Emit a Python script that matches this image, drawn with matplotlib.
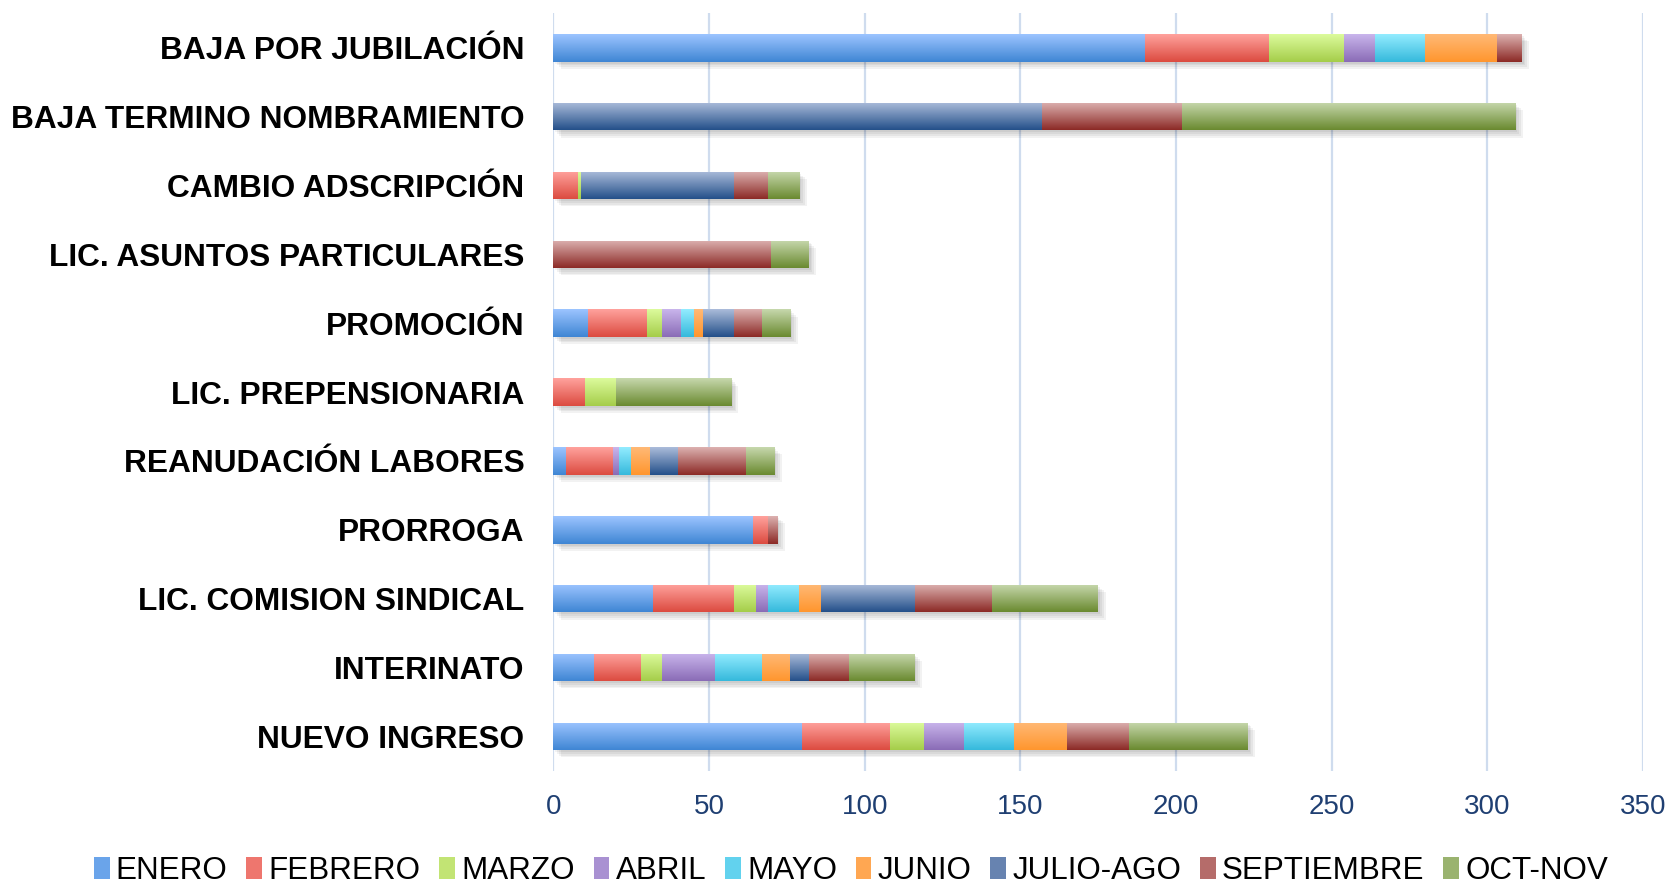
import numpy as np
import matplotlib
matplotlib.use("Agg")
import matplotlib.pyplot as plt
from matplotlib.patches import Patch
from matplotlib.colors import to_rgb

categories = ["BAJA POR JUBILACIÓN", "BAJA TERMINO NOMBRAMIENTO", "CAMBIO ADSCRIPCIÓN",
              "LIC. ASUNTOS PARTICULARES", "PROMOCIÓN", "LIC. PREPENSIONARIA",
              "REANUDACIÓN LABORES", "PRORROGA", "LIC. COMISION SINDICAL",
              "INTERINATO", "NUEVO INGRESO"]
series_names = ["ENERO", "FEBRERO", "MARZO", "ABRIL", "MAYO", "JUNIO",
                "JULIO-AGO", "SEPTIEMBRE", "OCT-NOV"]
enero      = [190, 0, 0, 0, 11, 0, 4, 64, 32, 13, 80]
febrero    = [40, 0, 8, 0, 19, 10, 15, 5, 26, 15, 28]
marzo      = [24, 0, 1, 0, 5, 10, 0, 0, 7, 7, 11]
abril      = [10, 0, 0, 0, 6, 0, 2, 0, 4, 17, 13]
mayo       = [16, 0, 0, 0, 4, 0, 4, 0, 10, 15, 16]
junio      = [23, 0, 0, 0, 3, 0, 6, 0, 7, 9, 17]
julio_ago  = [0, 157, 49, 0, 10, 0, 9, 0, 30, 6, 0]
septiembre = [8, 45, 11, 70, 9, 0, 22, 3, 25, 13, 20]
oct_nov    = [0, 107, 10, 12, 9, 37, 9, 0, 34, 21, 38]
x_ticks = [0, 50, 100, 150, 200, 250, 300, 350]

series = [enero, febrero, marzo, abril, mayo, junio, julio_ago, septiembre, oct_nov]
top_colors = ["#9cc4ff", "#ffa29d", "#dcfb9c", "#c9b5ec", "#93ecff", "#ffb976",
              "#abbcda", "#dcb1b0", "#c7d8ad"]
bot_colors = ["#3f86d4", "#dc4b40", "#a5cd4a", "#8a6cb6", "#35b9dc", "#ff962e",
              "#24508a", "#8c2a26", "#6a8a30"]
mid_colors = ["#6aa4ea", "#ee766e", "#c2e474", "#a991d2", "#62d2ee", "#ffa752",
              "#6783b0", "#b56c6a", "#9ab36f"]

fig = plt.figure(figsize=(16.72, 8.90), dpi=100)
ax = fig.add_axes([0.331, 0.134, 0.6517, 0.851])

y = np.arange(len(categories))
left = np.zeros(len(categories))
bar_h = 0.40
totals = np.sum(np.array(series), axis=0)

# shadows
for i in range(len(categories)):
    if totals[i] <= 0:
        continue
    for k, a in enumerate([0.05, 0.05, 0.05, 0.05]):
        off = 0.6 + 0.6 * k
        ax.add_patch(plt.Rectangle((off, y[i] - bar_h / 2 + 0.03 + 0.025 * k),
                                   totals[i], bar_h, color="black", alpha=a,
                                   lw=0, zorder=2))

for s, vals in enumerate(series):
    vals = np.array(vals, dtype=float)
    bars = ax.barh(y, vals, left=left, height=bar_h, color=mid_colors[s],
                   lw=0, zorder=3, label=series_names[s])
    c1 = np.array(to_rgb(top_colors[s]))
    c2 = np.array(to_rgb(bot_colors[s]))
    t = np.linspace(0, 1, 64)[:, None]
    grad = (c1 * (1 - t) + c2 * t)[:, None, :]
    for b, v in zip(bars, vals):
        if v <= 0:
            continue
        x0, y0 = b.get_x(), b.get_y()
        w, h = b.get_width(), b.get_height()
        im = ax.imshow(grad, extent=(x0, x0 + w, y0 + h, y0), aspect="auto",
                       zorder=4, interpolation="bilinear")
        im.set_clip_path(b)
    left += vals

ax.set_xlim(0, 350)
ax.set_ylim(len(categories) - 0.5, -0.5)
ax.set_yticks(y)
ax.set_yticklabels(categories, fontsize=22.8, fontweight="bold",
                   family="Liberation Sans")
ax.set_xticks(x_ticks)
ax.set_xticklabels([str(v) for v in x_ticks], fontsize=20, color="#1f3f72",
                   family="Liberation Sans")
ax.tick_params(axis="y", length=0, pad=21)
ax.tick_params(axis="x", length=0, pad=17)
for sp in ax.spines.values():
    sp.set_visible(False)
ax.grid(axis="x", color="#cfdcee", lw=1.6, zorder=0)
ax.set_axisbelow(True)

handles = [Patch(facecolor=mid_colors[i], edgecolor="none") for i in range(9)]
leg = fig.legend(handles, series_names, loc="center", bbox_to_anchor=(0.509, 0.021),
                 ncol=9, frameon=False, handlelength=0.5, handleheight=0.7,
                 handletextpad=0.2, columnspacing=0.6,
                 prop={"family": "Liberation Sans", "size": 22.6})

fig.savefig("out.png", dpi=100)
